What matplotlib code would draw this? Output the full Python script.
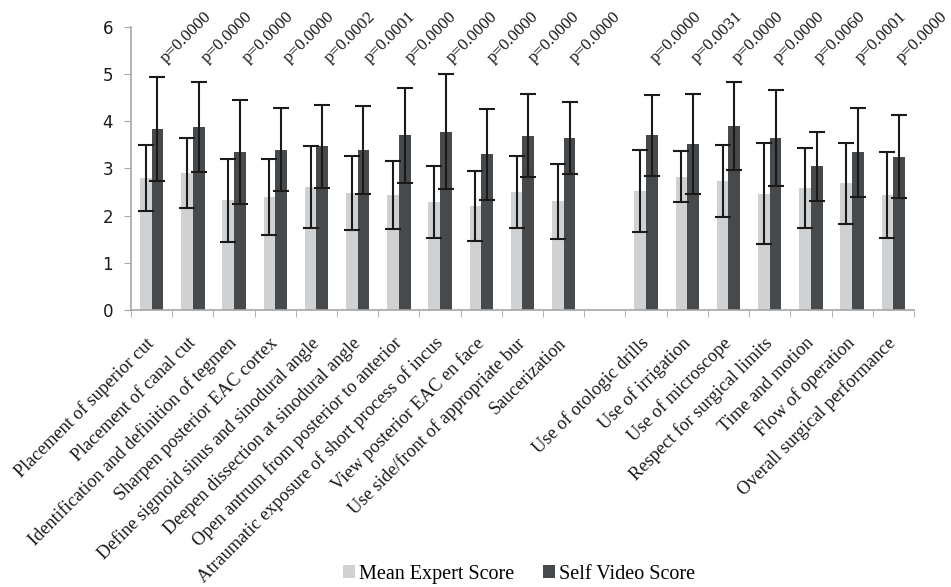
import matplotlib
matplotlib.use("Agg")
import matplotlib.pyplot as plt
import numpy as np
from matplotlib.patches import Patch

categories = [
    "Placement of superior cut", "Placement of canal cut",
    "Identification and definition of tegmen", "Sharpen posterior EAC cortex",
    "Define sigmoid sinus and sinodural angle", "Deepen dissection at sinodural angle",
    "Open antrum from posterior to anterior", "Atraumatic exposure of short process of incus",
    "View posterior EAC en face", "Use side/front of appropriate bur", "Saucerization",
    "",
    "Use of otologic drills", "Use of irrigation", "Use of microscope",
    "Respect for surgical limits", "Time and motion", "Flow of operation",
    "Overall surgical performance",
]
expert_mean = [2.79, 2.90, 2.32, 2.39, 2.60, 2.48, 2.43, 2.28, 2.20, 2.50, 2.30,
               np.nan, 2.52, 2.82, 2.73, 2.46, 2.58, 2.68, 2.44]
expert_sd = [0.70, 0.74, 0.87, 0.81, 0.87, 0.78, 0.72, 0.76, 0.74, 0.77, 0.79,
             np.nan, 0.86, 0.54, 0.77, 1.07, 0.85, 0.86, 0.91]
self_mean = [3.83, 3.87, 3.35, 3.39, 3.47, 3.39, 3.70, 3.78, 3.30, 3.69, 3.64,
             np.nan, 3.70, 3.52, 3.90, 3.64, 3.04, 3.34, 3.25]
self_sd = [1.10, 0.95, 1.10, 0.88, 0.88, 0.93, 1.00, 1.22, 0.96, 0.88, 0.77,
           np.nan, 0.86, 1.06, 0.93, 1.02, 0.74, 0.94, 0.87]
p_values = ["p=0.0000", "p=0.0000", "p=0.0000", "p=0.0000", "p=0.0002", "p=0.0001",
            "p=0.0000", "p=0.0000", "p=0.0000", "p=0.0000", "p=0.0000",
            "",
            "p=0.0000", "p=0.0031", "p=0.0000", "p=0.0000", "p=0.0060", "p=0.0001",
            "p=0.0000"]
legend_labels = ["Mean Expert Score", "Self Video Score"]

light = "#D0D1D3"
dark = "#474A4C"
axis_gray = "#A6A6A6"
serif = "Liberation Serif"

fig = plt.figure(figsize=(9.51, 5.87), dpi=100)
ax = fig.add_axes([0.1378, 0.4719, 0.961 - 0.1378, 0.9545 - 0.4719])

x = np.arange(len(categories))
w = 0.283
ax.bar(x - w / 2, expert_mean, w, color=light, zorder=2)
ax.bar(x + w / 2, self_mean, w, color=dark, zorder=2)
ekw = dict(fmt="none", ecolor="#1a1a1a", elinewidth=1.5, capsize=6, capthick=1.5, zorder=3)
ax.errorbar(x - w / 2, expert_mean, yerr=expert_sd, **ekw)
ax.errorbar(x + w / 2, self_mean, yerr=self_sd, **ekw)

ax.set_xlim(-0.5, len(categories) - 0.5)
ax.set_ylim(0, 6)
ax.set_yticks(range(0, 7))
ax.tick_params(axis="y", direction="out", length=5, color=axis_gray, labelsize=12,
               labelcolor="#1a1a1a", pad=8)
for lab in ax.get_yticklabels():
    lab.set_family("DejaVu Sans")

ax.set_xticks(np.arange(-0.5, len(categories)), minor=True)
ax.set_xticks(x)
ax.set_xticklabels(categories, rotation=45, ha="right", va="center", rotation_mode="anchor",
                   family=serif, fontsize=13.2, color="#1a1a1a")
ax.tick_params(axis="x", which="major", length=0, pad=22)
ax.tick_params(axis="x", which="minor", direction="out", length=5, color=axis_gray)

for s in ["top", "right"]:
    ax.spines[s].set_visible(False)
for s in ["left", "bottom"]:
    ax.spines[s].set_color(axis_gray)
    ax.spines[s].set_linewidth(1.2)

for xi, p in zip(x, p_values):
    if p:
        ax.text(xi * 0.9915 + 0.35, 5.22, p, rotation=45, ha="left", va="baseline",
                rotation_mode="anchor", family=serif, fontsize=12.4, color="#1a1a1a",
                clip_on=False)

handles = [Patch(facecolor=light, edgecolor="none"), Patch(facecolor=dark, edgecolor="none")]
fig.legend(handles, legend_labels, loc="center", bbox_to_anchor=(0.546, 0.022), ncol=2,
           frameon=False, handlelength=0.6, handleheight=0.6, handletextpad=0.2,
           columnspacing=1.4, prop={"family": serif, "size": 14.5})

fig.savefig("out.png", dpi=100, facecolor="white")
